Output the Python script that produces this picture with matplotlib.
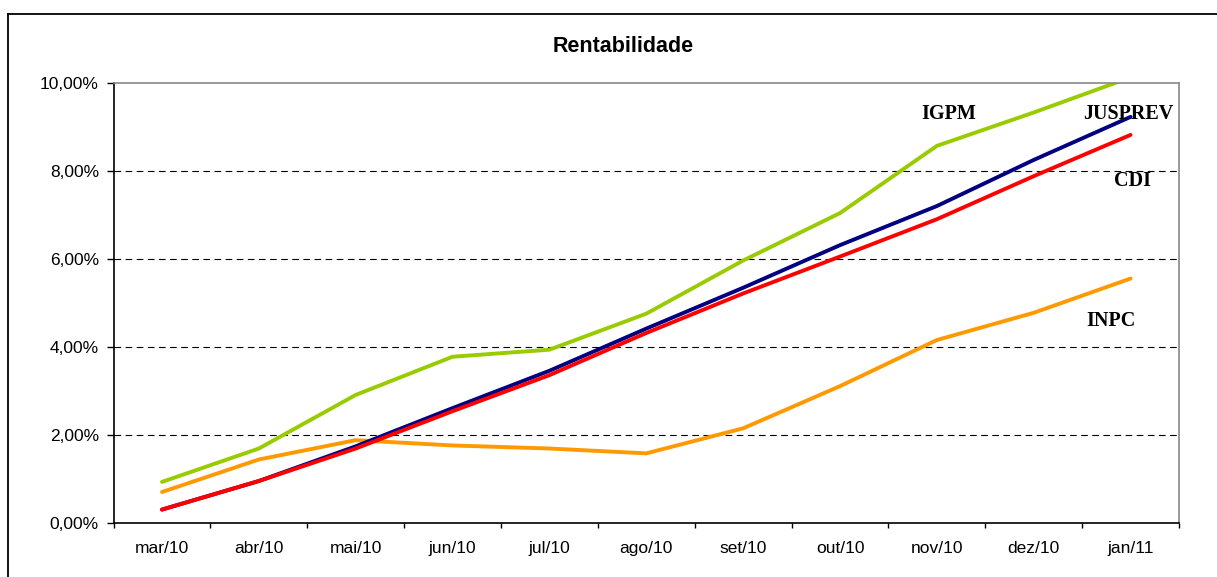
import numpy as np
import matplotlib
matplotlib.use('Agg')
import matplotlib.pyplot as plt
from matplotlib.lines import Line2D
from matplotlib.ticker import FuncFormatter, FixedLocator

plt.rcParams.update({'font.family': ['Liberation Sans', 'DejaVu Sans'], 'font.size': 12.5})

months = ['mar/10', 'abr/10', 'mai/10', 'jun/10', 'jul/10', 'ago/10',
          'set/10', 'out/10', 'nov/10', 'dez/10', 'jan/11']
igpm = [0.93, 1.69, 2.91, 3.78, 3.94, 4.76, 5.97, 7.05, 8.58, 9.34, 10.14]
inpc = [0.70, 1.44, 1.88, 1.76, 1.69, 1.58, 2.15, 3.11, 4.16, 4.78, 5.56]
jusprev = [0.30, 0.95, 1.74, 2.61, 3.46, 4.42, 5.35, 6.32, 7.21, 8.26, 9.24]
cdi = [0.30, 0.95, 1.69, 2.54, 3.36, 4.32, 5.22, 6.06, 6.91, 7.89, 8.83]

fig = plt.figure(figsize=(12.17, 5.77), dpi=100)
ax = fig.add_axes([0.0933, 0.094, 0.8755, 0.7613])

x = np.arange(len(months))
ax.plot(x, inpc, color='#FF9900', lw=2.8, solid_capstyle='round')
ax.plot(x, igpm, color='#99CC00', lw=2.8, solid_capstyle='round')
ax.plot(x, jusprev, color='#000080', lw=2.8, solid_capstyle='round')
ax.plot(x, cdi, color='#FF0000', lw=2.8, solid_capstyle='round')

ax.set_xlim(-0.5, len(months) - 0.5)
ax.set_ylim(0, 10)
ax.set_yticks([0, 2, 4, 6, 8, 10])
ax.yaxis.set_major_formatter(FuncFormatter(lambda v, p: f'{v:.2f}%'.replace('.', ',')))
ax.set_xticks(x)
ax.set_xticklabels(months)
ax.xaxis.set_minor_locator(FixedLocator(np.arange(len(months) + 1) - 0.5))
ax.tick_params(axis='x', which='major', length=0, pad=13)
ax.tick_params(axis='x', which='minor', length=3.6, width=1, direction='out')
ax.tick_params(axis='y', length=5, width=1, direction='out', pad=5.5)

for yv in [2, 4, 6, 8]:
    ax.axhline(yv, color='black', lw=0.8, ls=(0, (6, 4)), zorder=0)

ax.spines['left'].set_color('black')
ax.spines['bottom'].set_color('black')
ax.spines['top'].set_color('#888888')
ax.spines['right'].set_color('#888888')
for s in ax.spines.values():
    s.set_linewidth(1.2)

fig.text(623 / 1217, 1 - 46 / 577, 'Rentabilidade', fontsize=15.5, fontweight='bold',
         ha='center', va='center')

serif = dict(family=['Liberation Serif', 'DejaVu Serif'], fontsize=14.5, fontweight='bold',
             ha='center', va='center')
ax.text(8.12, 9.3, 'IGPM', **serif)
ax.text(9.98, 9.3, 'JUSPREV', **serif)
ax.text(10.02, 7.78, 'CDI', **serif)
ax.text(9.8, 4.6, 'INPC', **serif)

# outer chart frame (left and top edges)
fig.add_artist(Line2D([8 / 1217, 8 / 1217], [0, 1 - 14 / 577], color='black', lw=1.3))
fig.add_artist(Line2D([8 / 1217, 1], [1 - 14 / 577, 1 - 14 / 577], color='black', lw=1.3))

fig.savefig('out.png', dpi=100)
